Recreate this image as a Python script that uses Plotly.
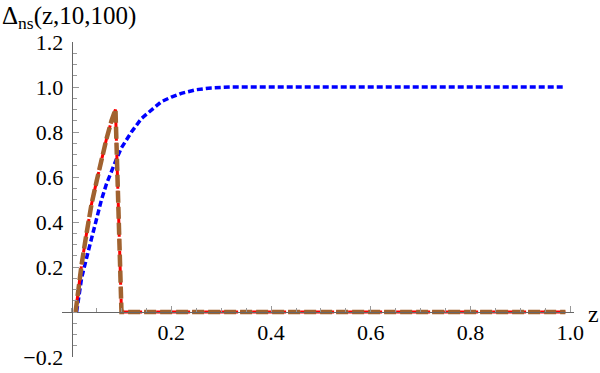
import plotly.graph_objects as go

# Data
red_z = [0.008, 0.015, 0.02, 0.03, 0.04, 0.05, 0.06, 0.07, 0.08, 0.088, 0.1, 0.99]
red_v = [0.0, 0.13, 0.21, 0.35, 0.48, 0.58, 0.68, 0.77, 0.85, 0.90, 0.0, 0.0]

blue_z = [0.01, 0.02, 0.03, 0.04, 0.05, 0.06, 0.07, 0.08, 0.09, 0.10, 0.12, 0.14,
          0.16, 0.18, 0.20, 0.22, 0.25, 0.28, 0.32, 0.99]
blue_v = [0.0, 0.15, 0.24, 0.33, 0.42, 0.50, 0.57, 0.63, 0.68, 0.73, 0.80, 0.86,
          0.90, 0.935, 0.955, 0.972, 0.988, 0.996, 1.0, 1.0]

x_ticks = [0.2, 0.4, 0.6, 0.8, 1.0]
x_labels = ["0.2", "0.4", "0.6", "0.8", "1.0"]
y_ticks = [-0.2, 0.2, 0.4, 0.6, 0.8, 1.0, 1.2]
y_labels = ["\u22120.2", "0.2", "0.4", "0.6", "0.8", "1.0", "1.2"]

W, H = 600, 373
ml, mr, mt, mb = 62, 26, 42, 16
x0px, xscale = 71.6, 498.75
xr = [(ml - x0px) / xscale, (W - mr - x0px) / xscale]
yr = [-0.2, 1.2]

fig = go.Figure()
fig.add_trace(go.Scatter(x=blue_z, y=blue_v, mode="lines",
                         line=dict(color="#0000FF", width=3.5, dash="6px,3px")))
fig.add_trace(go.Scatter(x=red_z, y=red_v, mode="lines",
                         line=dict(color="#FF0000", width=3, dash="10px,2px")))
fig.add_trace(go.Scatter(x=red_z, y=red_v, mode="lines",
                         line=dict(color="#A0622F", width=4.5, dash="12px,4px")))

FAM = "Liberation Serif"
font = dict(family=FAM, size=22, color="black")
axis_col = "#666666"
tick_col = "#999999"

fig.update_layout(
    width=W, height=H, showlegend=False,
    margin=dict(l=ml, r=mr, t=mt, b=mb, autoexpand=False),
    paper_bgcolor="white", plot_bgcolor="white",
    font=dict(family=FAM),
    xaxis=dict(range=xr, anchor="free", position=(0 - yr[0]) / (yr[1] - yr[0]),
               automargin=False,
               showgrid=False, zeroline=False, showline=True, linecolor=axis_col,
               linewidth=1, ticks="inside", ticklen=6, tickcolor=tick_col,
               tickvals=x_ticks, ticktext=x_labels, tickfont=font,
               ticklabelstandoff=1,
               minor=dict(ticks="inside", ticklen=4, tickcolor=tick_col,
                          dtick=0.05, tick0=0, showgrid=False)),
    yaxis=dict(range=yr, anchor="free", position=(0 - xr[0]) / (xr[1] - xr[0]),
               automargin=False,
               showgrid=False, zeroline=False, showline=True, linecolor=axis_col,
               linewidth=1, ticks="inside", ticklen=6, tickcolor=tick_col,
               tickvals=y_ticks, ticktext=y_labels, tickfont=font,
               ticklabelstandoff=4,
               minor=dict(ticks="inside", ticklen=4, tickcolor=tick_col,
                          dtick=0.05, tick0=0, showgrid=False)),
)

pw = W - ml - mr
ph = H - mt - mb
fig.add_annotation(text="\u0394<sub>ns</sub>(z,10,100)", xref="paper", yref="paper",
                   x=-ml / pw, y=1 + mt / ph, xanchor="left", yanchor="top",
                   showarrow=False, font=dict(family=FAM, size=25, color="black"))
fig.add_annotation(text="z", xref="paper", yref="y",
                   x=(593 - ml) / pw, y=0, xanchor="center", yanchor="middle", yshift=-2,
                   showarrow=False, font=dict(family=FAM, size=24, color="black"))

fig.write_html("out.html", config={"displayModeBar": False},
               post_script="document.body.style.margin='0';")
